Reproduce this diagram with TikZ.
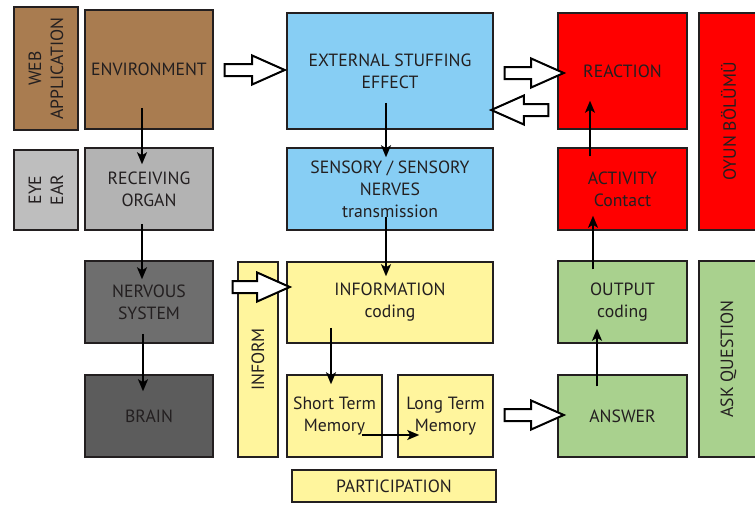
\documentclass[tikz,border=0pt]{standalone}
\usepackage{fontspec}
\setmainfont{PT Sans}
\usetikzlibrary{arrows.meta, shapes.arrows}
\definecolor{edge}{HTML}{231F20}
\definecolor{ink}{HTML}{231F20}
\definecolor{earth}{HTML}{A97C50}
\definecolor{pale}{HTML}{BEBEBE}
\definecolor{organ}{HTML}{B3B3B3}
\definecolor{nerve}{HTML}{6E6E6E}
\definecolor{dark}{HTML}{5C5C5C}
\definecolor{sky}{HTML}{87CEF4}
\definecolor{cream}{HTML}{FFF59D}
\definecolor{leaf}{HTML}{A9D18E}
\definecolor{fire}{HTML}{FF0000}
\tikzset{
  box/.style={draw=edge, line width=1.5pt, inner sep=0pt, align=center, text=ink,
    font=\fontsize{17.7}{22}\selectfont},
  sz/.style 2 args={minimum width=#1, minimum height=#2},
  arr/.style={draw=black, line width=1.6pt, -{Stealth[length=12pt, width=10pt, inset=3pt]}},
  hollow/.style={single arrow, draw=black, fill=white, line width=2pt, inner xsep=0pt,
    inner ysep=5pt, single arrow head extend=8.5pt, single arrow tip angle=48, minimum height=#1},
}

\begin{document}
\begin{tikzpicture}[x=1pt, y=-1pt]
\useasboundingbox (0,0) rectangle (755,504);
% left column
\node[box, fill=earth, sz={123pt}{64pt}, rotate=90] (web) at (46,68.5) {WEB\\APPLICATION};
\node[box, fill=earth, sz={128pt}{119pt}] (env) at (149,69.5) {ENVIRONMENT};
\node[box, fill=pale, sz={80pt}{64pt}, rotate=90] (eye) at (46,190) {EYE\\EAR};
\node[box, fill=organ, sz={128pt}{82pt}] (recv) at (149,189) {RECEIVING\\ORGAN};
\node[box, fill=nerve, sz={128pt}{82pt}] (nerv) at (149,302) {NERVOUS\\SYSTEM};
\node[box, fill=dark, sz={128pt}{82pt}] (brain) at (149,416) {BRAIN};
\node[box, fill=cream, sz={195pt}{40pt}, rotate=90] (inform) at (258,359.5) {INFORM};
% middle column
\node[box, fill=sky, sz={206pt}{116pt}] (ext) at (390,71) {EXTERNAL STUFFING\\EFFECT};
\node[box, fill=sky, sz={206pt}{82pt}] (sens) at (390,189) {SENSORY / SENSORY\\NERVES\\transmission};
\node[box, fill=cream, sz={206pt}{81pt}] (info) at (390,302.5) {INFORMATION\\coding};
\node[box, fill=cream, sz={95pt}{82pt}] (short) at (334.5,416) {Short Term\\Memory};
\node[box, fill=cream, sz={95pt}{82pt}] (long) at (445.5,416) {Long Term\\Memory};
\node[box, fill=cream, sz={204pt}{32pt}] (part) at (394,486) {PARTICIPATION};
% right column
\node[box, fill=fire, sz={129pt}{116pt}] (react) at (622.5,71) {REACTION};
\node[box, fill=fire, sz={129pt}{82pt}] (act) at (622.5,189) {ACTIVITY\\Contact};
\node[box, fill=leaf, sz={129pt}{82pt}] (output) at (622.5,302) {OUTPUT\\coding};
\node[box, fill=leaf, sz={129pt}{82pt}] (answer) at (622.5,416) {ANSWER};
\node[box, fill=fire, sz={217pt}{59pt}, rotate=90] (oyun) at (728.5,121.5) {OYUN BÖLÜMÜ};
\node[box, fill=leaf, sz={196pt}{59pt}, rotate=90] (ask) at (728.5,359) {ASK QUESTION};
% arrows
\draw[arr] ([xshift=-7pt, yshift=22pt]env.south) -- ([xshift=-7pt, yshift=-17pt]recv.north);
\draw[arr] ([xshift=-7pt, yshift=7pt]recv.south) -- ([xshift=-7pt, yshift=-19pt]nerv.north);
\draw[arr] ([xshift=-6pt, yshift=10pt]nerv.south) -- ([xshift=-6pt, yshift=-17pt]brain.north);
\draw[arr] ([xshift=-4pt, yshift=27pt]ext.south) -- ([xshift=-4pt, yshift=-10pt]sens.north);
\draw[arr] ([xshift=-4pt, yshift=14pt]sens.south) -- ([xshift=-4pt, yshift=-15pt]info.north);
\draw[arr] ([xshift=-59pt, yshift=16pt]info.south) -- ([xshift=-3.5pt, yshift=-10pt]short.north);
\draw[arr] ([xshift=-21pt, yshift=-19pt]short.east) -- ([xshift=22pt, yshift=-19pt]long.west);
\draw[arr] ([xshift=-25.5pt, yshift=-12pt]answer.north) -- ([xshift=-25.5pt, yshift=15pt]output.south);
\draw[arr] ([xshift=-29.5pt, yshift=-9pt]output.north) -- ([xshift=-29.5pt, yshift=15pt]act.south);
\draw[arr] ([xshift=-32.5pt, yshift=-9pt]act.north) -- ([xshift=-32.5pt, yshift=29pt]react.south);
% hollow arrows
\node[hollow=60pt] (h1) at (248,70) {};
\node[hollow=59pt] (h2) at (527.5,73) {};
\node[hollow=57pt, shape border rotate=180] (h3) at (526.5,110) {};
\node[hollow=57pt] (h4) at (254.5,287) {};
\node[hollow=59pt] (h5) at (527.5,415) {};
\end{tikzpicture}
\end{document}
